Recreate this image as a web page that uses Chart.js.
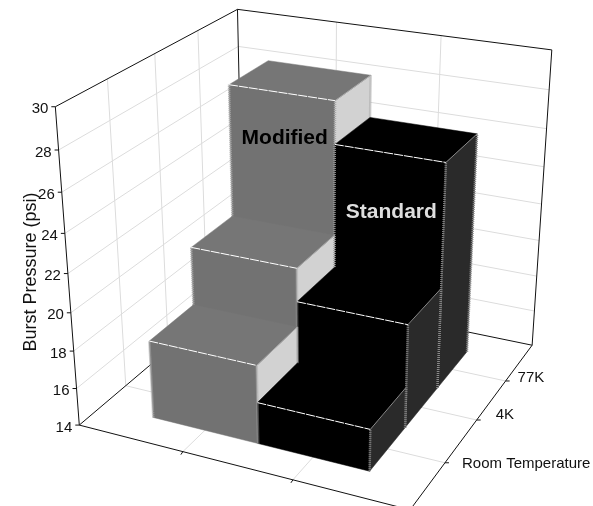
<!DOCTYPE html>
<html>
<head>
<meta charset="utf-8">
<title>Burst Pressure</title>
<script src="https://cdn.jsdelivr.net/npm/chart.js@4/dist/chart.umd.min.js"></script>
<style>
  html, body { margin: 0; padding: 0; background: #fff; }
  canvas { display: block; }
</style>
</head>
<body>
<canvas id="myChart" width="593" height="506"></canvas>
<script>
// Data
const categories = ['Room Temperature', '4K', '77K'];
const modifiedValues = [18.15, 21.25, 28.2];
const standardValues = [16.2, 19.5, 26];
const valueTicks = { min: 14, max: 30, step: 2 };
const axisTitle = 'Burst Pressure (psi)';

const FONT = '"Liberation Sans", Arial, sans-serif';

// Screen position of the box corners, as [u, v, w, x, y]
// u runs along the series, v along the categories, w up the value axis
const boxCorners = [
    [0, 0, 0, 79, 425],
    [1, 0, 0, 410, 510],
    [0, 1, 0, 244, 286],
    [1, 1, 0, 532, 345],
    [0, 0, 1, 55.7, 106.7],
    [0, 1, 1, 237, 9.3],
    [1, 1, 1, 552, 50]
];

// Nudges for the category labels next to their ticks
const rowLabelOffsets = [[17, 1], [19, -5], [12, -3]];

// Least squares fit of the perspective camera for those corners
function fitCamera(points) {
    const n = 11;
    const m = Array.from({ length: n }, () => new Array(n + 1).fill(0));
    const addRow = (row, rhs) => {
        for (let i = 0; i < n; i++) {
            for (let j = 0; j < n; j++) m[i][j] += row[i] * row[j];
            m[i][n] += row[i] * rhs;
        }
    };
    points.forEach(([u, v, w, x, y]) => {
        const sx = x / 100, sy = y / 100;
        addRow([u, v, w, 1, 0, 0, 0, 0, -sx * u, -sx * v, -sx * w], sx);
        addRow([0, 0, 0, 0, u, v, w, 1, -sy * u, -sy * v, -sy * w], sy);
    });
    for (let c = 0; c < n; c++) {
        let pivot = c;
        for (let r = c + 1; r < n; r++) {
            if (Math.abs(m[r][c]) > Math.abs(m[pivot][c])) pivot = r;
        }
        [m[c], m[pivot]] = [m[pivot], m[c]];
        for (let r = 0; r < n; r++) {
            if (r === c) continue;
            const f = m[r][c] / m[c][c];
            for (let k = c; k <= n; k++) m[r][k] -= f * m[c][k];
        }
    }
    return m.map((row, i) => row[n] / row[i]);
}

const cam = fitCamera(boxCorners);

function project(u, v, w) {
    const d = cam[8] * u + cam[9] * v + cam[10] * w + 1;
    return [
        100 * (cam[0] * u + cam[1] * v + cam[2] * w + cam[3]) / d,
        100 * (cam[4] * u + cam[5] * v + cam[6] * w + cam[7]) / d
    ];
}

function line(ctx, a, b, color, width) {
    ctx.strokeStyle = color;
    ctx.lineWidth = width || 1;
    ctx.beginPath();
    ctx.moveTo(a[0], a[1]);
    ctx.lineTo(b[0], b[1]);
    ctx.stroke();
}

function face(ctx, pts, color) {
    ctx.fillStyle = color;
    ctx.strokeStyle = color;
    ctx.lineWidth = 0.5;
    ctx.beginPath();
    pts.forEach((p, i) => (i ? ctx.lineTo(p[0], p[1]) : ctx.moveTo(p[0], p[1])));
    ctx.closePath();
    ctx.fill();
    ctx.stroke();
}

// Colours per series: front, top, right side, vertical edge
const seriesStyle = [
    { front: '#727272', top: '#767676', side: '#d2d2d2', edge: '#a8a8a8' },
    { front: '#000000', top: '#000000', side: '#2a2a2a', edge: '#8a8a8a' }
];

// 3D box frame, gridlines, ticks and tick labels
function drawFrame(ctx, chart) {
    const y = chart.scales.y;
    const rows = categories.length + 1;
    const cols = chart.data.datasets.length + 1;
    const grid = '#dcdcdc';
    const wOf = val => (y.bottom - y.getPixelForValue(val)) / (y.bottom - y.top);

    y.ticks.forEach(t => {
        const w = wOf(t.value);
        if (t.value > valueTicks.min && t.value < valueTicks.max) {
            line(ctx, project(0, 0, w), project(0, 1, w), grid);
            line(ctx, project(0, 1, w), project(1, 1, w), grid);
        }
    });
    for (let i = 1; i < rows; i++) {
        line(ctx, project(0, i / rows, 0), project(0, i / rows, 1), grid);
        line(ctx, project(0, i / rows, 0), project(1, i / rows, 0), grid);
    }
    for (let i = 1; i < cols; i++) {
        line(ctx, project(i / cols, 1, 0), project(i / cols, 1, 1), grid);
        line(ctx, project(i / cols, 0, 0), project(i / cols, 1, 0), grid);
    }

    const black = '#111';
    const edges = [
        [[0, 0, 0], [1, 0, 0]], [[1, 0, 0], [1, 1, 0]], [[1, 1, 0], [1, 1, 1]],
        [[1, 1, 1], [0, 1, 1]], [[0, 1, 1], [0, 0, 1]], [[0, 0, 1], [0, 0, 0]],
        [[0, 0, 0], [0, 1, 0]], [[0, 1, 0], [1, 1, 0]], [[0, 1, 0], [0, 1, 1]]
    ];
    edges.forEach(([a, b]) => line(ctx, project(...a), project(...b), black));

    ctx.textBaseline = 'middle';
    ctx.font = '15px ' + FONT;
    ctx.textAlign = 'right';
    y.ticks.forEach(t => {
        const p = project(0, 0, wOf(t.value));
        line(ctx, p, [p[0] - 4, p[1]], black);
        ctx.fillStyle = '#111';
        ctx.fillText(String(t.value), p[0] - 7, p[1] + 2.5);
    });

    for (let i = 1; i < cols; i++) {
        const p = project(i / cols, 0, 0);
        line(ctx, p, [p[0] - 2, p[1] + 3], black);
    }
    ctx.textAlign = 'left';
    categories.forEach((label, i) => {
        const p = project(1, (i + 1) / rows, 0);
        line(ctx, p, [p[0] + 4, p[1]], black);
        ctx.fillStyle = '#111';
        ctx.fillText(label, p[0] + rowLabelOffsets[i][0], p[1] + rowLabelOffsets[i][1]);
    });
}

// One bar as a box: front, top and right faces with their highlighted edges
function drawBar(ctx, u0, u1, v0, v1, w, st) {
    const f0 = project(u0, v0, 0), f1 = project(u1, v0, 0);
    const t0 = project(u0, v0, w), t1 = project(u1, v0, w);
    const b0 = project(u0, v1, w), b1 = project(u1, v1, w);
    const r1 = project(u1, v1, 0);
    face(ctx, [f0, f1, t1, t0], st.front);
    face(ctx, [f1, r1, b1, t1], st.side);
    face(ctx, [t0, t1, b1, b0], st.top);

    // the vertical edges come out rough, a tight dash gives the same look
    ctx.setLineDash([1, 1]);
    line(ctx, f0, t0, st.edge, 2.5);
    line(ctx, f1, t1, st.edge, 2.5);
    line(ctx, r1, b1, st.edge, 2.5);
    ctx.setLineDash([]);
    line(ctx, t1, b1, st.edge, 1);
    ctx.setLineDash([9, 1]);
    line(ctx, t0, t1, '#ffffff', 1);
    ctx.setLineDash([]);
}

const box3d = {
    id: 'box3d',
    beforeDatasetsDraw(chart) {
        const ctx = chart.ctx;
        const y = chart.scales.y;
        const sets = chart.data.datasets;
        const rows = categories.length + 1;
        const cols = sets.length + 1;
        const wOf = val => (y.bottom - y.getPixelForValue(val)) / (y.bottom - y.top);

        ctx.save();
        drawFrame(ctx, chart);

        // painter's order: back row first, left series first
        for (let r = categories.length - 1; r >= 0; r--) {
            sets.forEach((ds, s) => {
                const uc = (s + 1) / cols, vc = (r + 1) / rows;
                drawBar(ctx, uc - 0.5 / cols, uc + 0.5 / cols, vc - 0.5 / rows, vc + 0.5 / rows,
                    wOf(ds.data[r]), seriesStyle[s]);
            });
        }

        // series names on the front of the tallest row
        ctx.font = 'bold 21px ' + FONT;
        ctx.textAlign = 'center';
        ctx.textBaseline = 'middle';
        sets.forEach((ds, s) => {
            const p = project((s + 1) / cols, 0.625, wOf(ds.labelAt));
            ctx.fillStyle = ds.labelColor;
            ctx.fillText(ds.label, p[0] + 3, p[1]);
        });
        ctx.restore();
        return false;
    }
};

new Chart(document.getElementById('myChart').getContext('2d'), {
    type: 'bar',
    data: {
        labels: categories,
        datasets: [
            { label: 'Modified', data: modifiedValues, labelAt: 25.9, labelColor: '#000000' },
            { label: 'Standard', data: standardValues, labelAt: 23, labelColor: '#dedede' }
        ]
    },
    options: {
        responsive: false,
        animation: false,
        layout: { padding: { left: 16, top: 46 } },
        plugins: { legend: { display: false }, tooltip: { enabled: false } },
        scales: {
            x: {
                grid: { display: false },
                border: { display: false },
                ticks: { display: false }
            },
            y: {
                min: valueTicks.min,
                max: valueTicks.max,
                grid: { display: false },
                border: { display: false },
                ticks: { display: false, stepSize: valueTicks.step },
                title: {
                    display: true,
                    text: axisTitle,
                    color: '#111',
                    font: { family: FONT, size: 18 }
                }
            }
        }
    },
    plugins: [box3d]
});
</script>
</body>
</html>
